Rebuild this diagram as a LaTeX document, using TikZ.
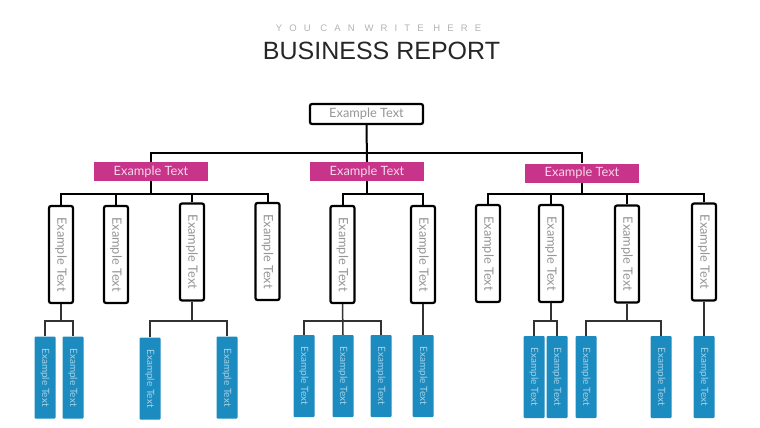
\documentclass[tikz,border=0pt]{standalone}
\usepackage{fontspec}
\usepackage{graphicx}
\setmainfont{Liberation Sans}
\newfontfamily\boxfont{Lato}
\newfontfamily\spacedfont[LetterSpace=75]{Liberation Sans}
\definecolor{pinkc}{RGB}{200,52,138}
\definecolor{bluec}{RGB}{28,139,192}
\definecolor{txtgray}{RGB}{150,150,150}
\definecolor{linegray}{RGB}{50,50,50}
\tikzset{
  topbox/.style={draw=black, line width=2.2pt, rounded corners=2pt, fill=white,
    minimum width=113pt, minimum height=20pt, inner sep=0pt,
    text=txtgray, font=\boxfont\fontsize{12.8}{14}\selectfont},
  pinkbox/.style={fill=pinkc, minimum width=114pt, minimum height=19pt, inner sep=0pt,
    text=white!80!pinkc, font=\boxfont\fontsize{12.8}{14}\selectfont},
  wbox/.style={draw=black, line width=2.2pt, rounded corners=2pt, fill=white,
    minimum width=24pt, minimum height=97pt, inner sep=0pt,
    text=txtgray, font=\boxfont\fontsize{12.8}{14}\selectfont},
  bbox/.style={fill=bluec, rounded corners=1pt,
    minimum width=21pt, minimum height=82pt, inner sep=0pt,
    text=white!60!bluec, font=\boxfont\fontsize{10}{11}\selectfont},
  conn/.style={draw=black, line width=2pt},
  conn2/.style={draw=linegray, line width=1.5pt},
}
\newcommand{\vtext}[1]{\rotatebox{-90}{#1}}
\begin{document}
\begin{tikzpicture}[x=1pt,y=-1pt]
\useasboundingbox (0,0) rectangle (760,428);
% titles
\node[text=black!30, font=\spacedfont\fontsize{9.5}{11}\selectfont] (sub) at (378.5,28) {YOU CAN WRITE HERE};
\node[text=black!85, font=\fontsize{25}{28}\selectfont] (title) at (381.5,51) {BUSINESS REPORT};
% coordinates of buses
\coordinate (busA) at (0,153);
\coordinate (busB) at (0,194);
\coordinate (busC) at (0,321);
% top
\node[topbox] (top) at (366.5,114) {Example Text};
% pink
\node[pinkbox] (p1) at (151,171.5) {Example Text};
\node[pinkbox] (p2) at (367,171.5) {Example Text};
\node[pinkbox] (p3) at (582,173) {Example Text};
% white vertical boxes
\node[wbox] (w1) at (61,254.5) {\vtext{Example Text}};
\node[wbox] (w2) at (116,254.5) {\vtext{Example Text}};
\node[wbox] (w3) at (192,252) {\vtext{Example Text}};
\node[wbox] (w4) at (267.5,251.5) {\vtext{Example Text}};
\node[wbox] (w5) at (342.5,254.5) {\vtext{Example Text}};
\node[wbox] (w6) at (423,254.5) {\vtext{Example Text}};
\node[wbox] (w7) at (488,253.5) {\vtext{Example Text}};
\node[wbox] (w8) at (551,253.5) {\vtext{Example Text}};
\node[wbox] (w9) at (627,254) {\vtext{Example Text}};
\node[wbox] (w10) at (704,252) {\vtext{Example Text}};
% blue boxes
\node[bbox] (b1) at (45,377.5) {\vtext{Example Text}};
\node[bbox] (b2) at (73,377.5) {\vtext{Example Text}};
\node[bbox] (b3) at (150,378.5) {\vtext{Example Text}};
\node[bbox] (b4) at (227,377.5) {\vtext{Example Text}};
\node[bbox] (b5) at (304,376) {\vtext{Example Text}};
\node[bbox] (b6) at (343,376) {\vtext{Example Text}};
\node[bbox] (b7) at (381,376) {\vtext{Example Text}};
\node[bbox] (b8) at (423,376) {\vtext{Example Text}};
\node[bbox] (b9) at (534,377) {\vtext{Example Text}};
\node[bbox] (b10) at (557,377) {\vtext{Example Text}};
\node[bbox] (b11) at (586,377) {\vtext{Example Text}};
\node[bbox] (b12) at (661,377) {\vtext{Example Text}};
\node[bbox] (b13) at (704,377) {\vtext{Example Text}};
% level 1 connectors
\draw[conn] (top.south) -- (p2.north);
\draw[conn] (p1.north) -- (p1.north |- busA) -- (p3.north |- busA) -- (p3.north);
% level 2 connectors
\draw[conn] (p1.south) -- (p1.south |- busB);
\draw[conn] (w1.north) -- (w1.north |- busB) -- (w4.north |- busB) -- (w4.north);
\draw[conn] (w2.north) -- (w2.north |- busB);
\draw[conn] (w3.north) -- (w3.north |- busB);
\draw[conn] (p2.south) -- (p2.south |- busB);
\draw[conn] (w5.north) -- (w5.north |- busB) -- (w6.north |- busB) -- (w6.north);
\draw[conn] (p3.south) -- (p3.south |- busB);
\draw[conn] (w7.north) -- (w7.north |- busB) -- (w10.north |- busB) -- (w10.north);
\draw[conn] (w8.north) -- (w8.north |- busB);
\draw[conn] (w9.north) -- (w9.north |- busB);
% level 3 connectors
\draw[conn2] (w1.south) -- (w1.south |- busC);
\draw[conn2] (b1.north) -- (b1.north |- busC) -- (b2.north |- busC) -- (b2.north);
\draw[conn2] (w3.south) -- (w3.south |- busC);
\draw[conn2] (b3.north) -- (b3.north |- busC) -- (b4.north |- busC) -- (b4.north);
\draw[conn2] (w5.south) -- (b6.north);
\draw[conn2] (b5.north) -- (b5.north |- busC) -- (b7.north |- busC) -- (b7.north);
\draw[conn2] (w6.south) -- (b8.north);
\draw[conn2] (w8.south) -- (w8.south |- busC);
\draw[conn2] (b9.north) -- (b9.north |- busC) -- (b10.north |- busC) -- (b10.north);
\draw[conn2] (w9.south) -- (w9.south |- busC);
\draw[conn2] (b11.north) -- (b11.north |- busC) -- (b12.north |- busC) -- (b12.north);
\draw[conn2] (w10.south) -- (b13.north);
\end{tikzpicture}
\end{document}
